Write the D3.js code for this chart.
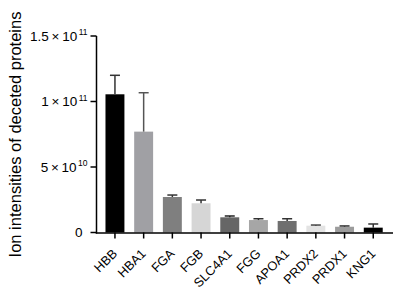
<!DOCTYPE html>
<html><head><meta charset="utf-8">
<script src="https://cdn.jsdelivr.net/npm/d3@7"></script>
<style>body{margin:0;background:#fff}svg{display:block}text{font-family:"Liberation Sans",Arial,sans-serif}</style>
</head><body>
<svg id="c" width="400" height="294"></svg>
<script>
const categories = ["HBB","HBA1","FGA","FGB","SLC4A1","FGG","APOA1","PRDX2","PRDX1","KNG1"];
const means = [1.055e11, 0.77e11, 0.271e11, 0.223e11, 0.116e11, 0.095e11, 0.088e11, 0.052e11, 0.044e11, 0.037e11];
const errTops = [1.20e11, 1.067e11, 0.286e11, 0.248e11, 0.126e11, 0.105e11, 0.105e11, 0.057e11, 0.050e11, 0.065e11];
const barColors = ["#000000","#a0a0a4","#7f7f7f","#d6d6d6","#666666","#a6a6a6","#6f6f6f","#e3e3e3","#9c9c9c","#000000"];
const errColors = ["#333333","#555555","#333333","#333333","#222222","#333333","#333333","#444444","#333333","#333333"];
const yTicks = [{v:0,m:"0",e:""},{v:5e10,m:"5\u2009\u00d7\u200910",e:"10"},{v:1e11,m:"1\u2009\u00d7\u200910",e:"11"},{v:1.5e11,m:"1.5\u2009\u00d7\u200910",e:"11"}];
const yLabel = "Ion intensities of deceted proteins";

const svg = d3.select("#c");
const y = d3.scaleLinear().domain([0,1.5e11]).range([232.5,36]);
const x = d3.scaleBand().domain(categories).range([100.6,387.6]).paddingInner(0.34).paddingOuter(0.17);
const axX = 96.5;

// bars
svg.selectAll("rect.bar").data(categories).enter().append("rect")
  .attr("x", d=>x(d)).attr("width", x.bandwidth())
  .attr("y", (d,i)=>y(means[i])).attr("height",(d,i)=>y(0)-y(means[i]))
  .attr("fill",(d,i)=>barColors[i]);

// error bars
const eg = svg.selectAll("g.err").data(categories).enter().append("g");
eg.append("line").attr("x1",d=>x(d)+x.bandwidth()/2).attr("x2",d=>x(d)+x.bandwidth()/2)
  .attr("y1",(d,i)=>y(means[i])).attr("y2",(d,i)=>y(errTops[i]))
  .attr("stroke",(d,i)=>errColors[i]).attr("stroke-width",1.5);
eg.append("line").attr("x1",d=>x(d)+x.bandwidth()/2-5).attr("x2",d=>x(d)+x.bandwidth()/2+5)
  .attr("y1",(d,i)=>y(errTops[i])).attr("y2",(d,i)=>y(errTops[i]))
  .attr("stroke",(d,i)=>errColors[i]).attr("stroke-width",1.5);

// y axis
const ya = svg.append("g");
ya.append("line").attr("x1",axX).attr("x2",axX).attr("y1",y(1.5e11)).attr("y2",y(0)+1).attr("stroke","#000").attr("stroke-width",1.5);
const yt = ya.selectAll("g.t").data(yTicks).enter().append("g").attr("transform",d=>`translate(0,${y(d.v)})`);
yt.append("line").attr("x1",axX-6).attr("x2",axX).attr("stroke","#000").attr("stroke-width",1.5);
const tt = yt.append("text").attr("x",d=>d.e?axX-9:axX-14).attr("y",4.8).attr("text-anchor","end").attr("font-size",13.5).attr("fill","#000");
tt.each(function(d){
  const t=d3.select(this);
  if(d.e){
    t.append("tspan").text(d.m);
    t.append("tspan").attr("font-size",8.5).attr("dy",-5.5).attr("dx",1.5).text(d.e);
  } else t.text(d.m);
});

// x axis
const xa = svg.append("g");
xa.append("line").attr("x1",axX-0.75).attr("x2",393).attr("y1",y(0)+0.5).attr("y2",y(0)+0.5).attr("stroke","#000").attr("stroke-width",1.5);
const xt = xa.selectAll("g.t").data(categories).enter().append("g").attr("transform",d=>`translate(${x(d)+x.bandwidth()/2},${y(0)})`);
xt.append("line").attr("y1",0).attr("y2",6).attr("stroke","#000").attr("stroke-width",1.5);
xt.append("text").attr("transform","translate(3,22) rotate(-45)").attr("text-anchor","end")
  .attr("font-size",12.8).attr("fill","#000").text(d=>d);

// y label
svg.append("text").attr("transform","translate(21,134.5) rotate(-90)").attr("text-anchor","middle")
  .attr("font-size",16.5).attr("fill","#000").text(yLabel);
</script>
</body></html>
